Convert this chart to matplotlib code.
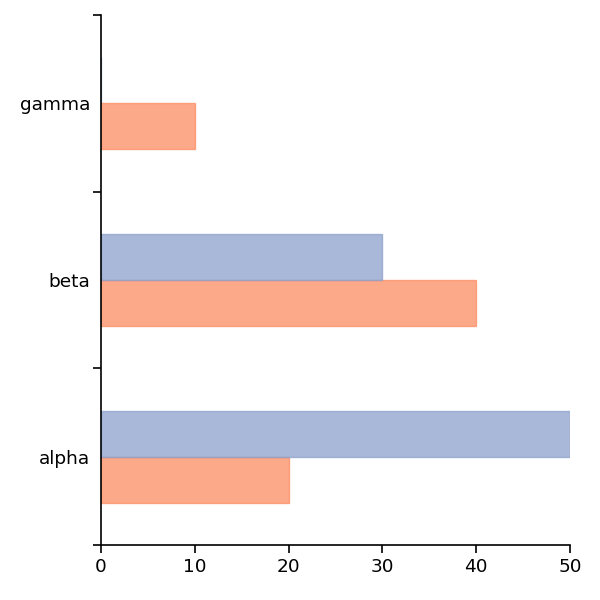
import numpy as np
import matplotlib.pyplot as plt

categories = ['alpha', 'beta', 'gamma']
blue_values = [50, 30, 0]
orange_values = [20, 40, 10]

blue = '#8da0cb'
orange = '#fc8d62'

fig = plt.figure(figsize=(6, 6), dpi=100)
ax = fig.add_axes([101 / 600, 1 - 545 / 600, 469 / 600, 530 / 600])

y = np.arange(len(categories))
h = 0.26
ax.barh(y - h / 2, orange_values, height=h, color=orange, alpha=0.75,
        edgecolor=orange, linewidth=1)
ax.barh(y + h / 2, blue_values, height=h, color=blue, alpha=0.75,
        edgecolor=blue, linewidth=1)

ax.set_xlim(0, 50)
ax.set_ylim(-0.5, len(categories) - 0.5)
ax.set_xticks(np.arange(0, 51, 10))
ax.set_yticks(np.arange(-0.5, len(categories), 1))
ax.set_yticklabels([])
ax.set_yticks(y, minor=True)
ax.set_yticklabels(categories, minor=True)
ax.tick_params(axis='y', which='minor', length=0, pad=8, labelsize=13.3)
ax.tick_params(axis='y', which='major', length=6, width=1.2)
ax.tick_params(axis='x', length=6, width=1.2, labelsize=13.3, pad=3)

for s in ['top', 'right']:
    ax.spines[s].set_visible(False)
for s in ['left', 'bottom']:
    ax.spines[s].set_linewidth(1.2)

fig.savefig('out.png', dpi=100)
